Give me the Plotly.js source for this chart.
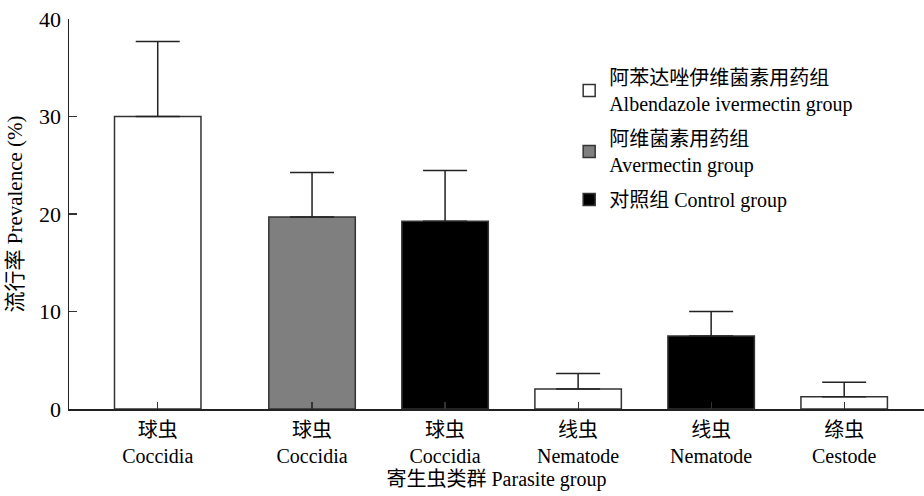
<!DOCTYPE html>
<html>
<head>
<meta charset="utf-8">
<script src="https://cdn.plot.ly/plotly-3.0.1.min.js"></script>
<style>html,body{margin:0;padding:0;background:#fff;}#chart{width:924px;height:496px;}</style>
</head>
<body>
<div id="chart"></div>
<script>
// ---- data ----
const catLabels = ["球虫<br>Coccidia", "球虫<br>Coccidia", "球虫<br>Coccidia", "线虫<br>Nematode", "线虫<br>Nematode", "绦虫<br>Cestode"];
const catPos = [0.84, 2, 3, 4, 5, 6];

const albX = [0.84, 4, 6];
const albY = [30.0, 2.05, 1.25];
const albErr = [7.7, 1.6, 1.5];

const aveX = [2];
const aveY = [19.7];
const aveErr = [4.55];

const ctlX = [3, 5];
const ctlY = [19.25, 7.5];
const ctlErr = [5.2, 2.5];

const seriesNames = [
  "阿苯达唑伊维菌素用药组<br>Albendazole ivermectin group",
  "阿维菌素用药组<br>Avermectin group",
  "对照组 Control group"
];

const FONT = "'Liberation Serif', 'Times New Roman', 'Noto Sans CJK SC', serif";
const outline = {color: "#333", width: 1.5};
function errs(a){ return {type: "data", symmetric: false, array: a, arrayminus: a.map(() => 0), color: "#222", thickness: 1.5, width: 22}; }

const traces = [
  {type: "bar", x: albX, y: albY, name: seriesNames[0], legendgroup: "g1", width: 0.65,
   marker: {color: "#ffffff", line: outline}, error_y: errs(albErr)},
  {type: "bar", x: aveX, y: aveY, name: seriesNames[1], legendgroup: "g2", width: 0.65,
   marker: {color: "#7f7f7f", line: outline}, error_y: errs(aveErr)},
  {type: "bar", x: ctlX, y: ctlY, name: seriesNames[2], legendgroup: "g3", width: 0.65,
   marker: {color: "#000000", line: outline}, error_y: errs(ctlErr)}
];

const layout = {
  width: 924, height: 496,
  margin: {l: 69, r: 0, t: 19, b: 87},
  paper_bgcolor: "#fff", plot_bgcolor: "#fff",
  font: {family: FONT, size: 20, color: "#000"},
  showlegend: true,
  legend: {x: 0.585, y: 0.9, xanchor: "left", yanchor: "top",
           font: {family: FONT, size: 20, color: "#000"},
           bgcolor: "rgba(0,0,0,0)", tracegroupgap: 6, traceorder: "grouped"},
  xaxis: {
    type: "linear", range: [0.173, 6.6],
    tickmode: "array", tickvals: catPos, ticktext: catLabels,
    ticks: "inside", ticklen: 7, tickwidth: 1.2, tickcolor: "#333",
    showline: true, linecolor: "#222", linewidth: 1.5,
    showgrid: false, zeroline: false,
    tickfont: {family: FONT, size: 20}, ticklabelstandoff: 2,
    title: {text: "寄生虫类群 Parasite group", font: {family: FONT, size: 20}, standoff: 6}
  },
  yaxis: {
    range: [0, 40], tickvals: [0, 10, 20, 30, 40],
    ticks: "inside", ticklen: 8, tickwidth: 1.2, tickcolor: "#333",
    showline: true, linecolor: "#222", linewidth: 1.5,
    showgrid: false, zeroline: false,
    tickfont: {family: FONT, size: 22}, ticklabelstandoff: 2,
    title: {text: "流行率 Prevalence (%)", font: {family: FONT, size: 21}, standoff: 10}
  },
  bargap: 0
};

Plotly.newPlot("chart", traces, layout, {displayModeBar: false, staticPlot: true});
</script>
</body>
</html>
